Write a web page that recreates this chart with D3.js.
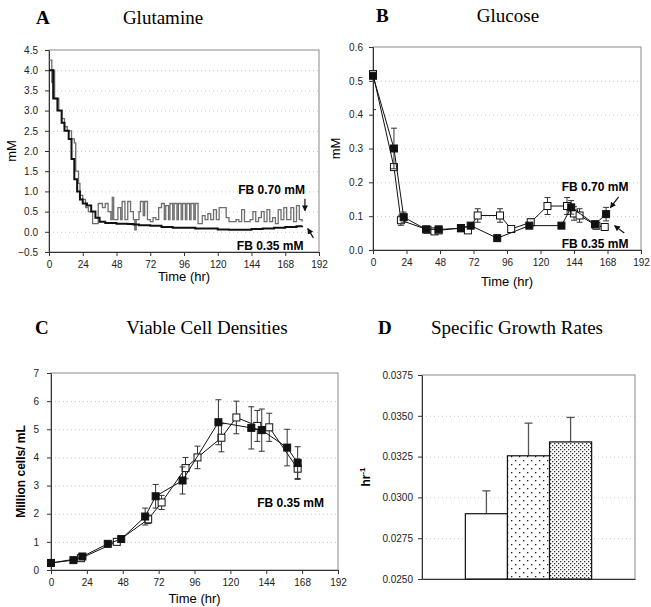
<!DOCTYPE html>
<html>
<head>
<meta charset="utf-8">
<script src="https://cdn.jsdelivr.net/npm/d3@7"></script>
<style>
  body { margin: 0; background: #fff; }
  svg { display: block; }
</style>
</head>
<body>
<svg id="fig" width="651" height="607"></svg>
<script>
// ---- data ----
const hourTicks = [0, 24, 48, 72, 96, 120, 144, 168, 192];

// A: glutamine (mM), step traces [hr, mM]
const glnFeed070 = [
  [0, 4.25], [2, 3.7], [3, 4.0], [4, 3.3], [7, 3.0], [9, 2.8], [11, 2.6], [13, 2.5], [16, 2.3],
  [18, 2.2], [19, 1.5], [21, 1.2], [22, 0.9], [24, 0.8], [26, 0.6], [28, 0.5], [31, 0.2], [35, 0.7],
  [38, 0.6], [40, 0.7], [42, 0.5], [44, 0.3], [45, 0.85], [46, 0.3], [49, 0.6], [51, 0.3], [52, 0.75],
  [54, 0.3], [56, 0.75], [58, 0.5], [60, 0.3], [61, 0.05], [62, 0.3], [64, 0.5], [65, 0.75], [67, 0.4],
  [68, 0.75], [70, 0.3], [72, 0.25], [74, 0.35], [76, 0.3], [78, 0.6], [80, 0.7], [82, 0.3], [83, 0.65],
  [85, 0.3], [86, 0.7], [88, 0.3], [89, 0.7], [91, 0.3], [92, 0.7], [94, 0.3], [95, 0.7], [97, 0.3],
  [98, 0.7], [100, 0.3], [101, 0.7], [103, 0.3], [104, 0.7], [106, 0.2], [109, 0.4], [111, 0.3],
  [113, 0.45], [115, 0.3], [117, 0.55], [119, 0.3], [121, 0.6], [126, 0.35], [128, 0.25], [133, 0.3],
  [135, 0.25], [137, 0.55], [139, 0.25], [143, 0.3], [145, 0.5], [147, 0.25], [149, 0.35], [151, 0.5],
  [153, 0.25], [155, 0.55], [157, 0.25], [159, 0.35], [161, 0.2], [163, 0.55], [165, 0.3], [167, 0.6],
  [169, 0.3], [172, 0.6], [174, 0.25], [176, 0.65], [178, 0.3], [180, 0.25]
];
const glnFeed035 = [
  [0, 4.0], [3, 3.3], [6, 3.0], [9, 2.7], [11, 2.5], [14, 2.3], [16, 1.8], [18, 1.3], [20, 1.0],
  [22, 0.8], [24, 0.7], [27, 0.65], [30, 0.5], [33, 0.35], [36, 0.25], [40, 0.22], [48, 0.2], [56, 0.19],
  [60, 0.18], [64, 0.16], [72, 0.15], [80, 0.12], [88, 0.1], [96, 0.1], [104, 0.08], [112, 0.08],
  [120, 0.06], [128, 0.05], [136, 0.05], [144, 0.07], [152, 0.08], [160, 0.1], [168, 0.12],
  [176, 0.14], [180, 0.15]
];

// B: glucose (mM) [hr, mean, sd]
const glcFeed070 = [
  [0, 0.515, 0], [15, 0.30, 0.06], [22, 0.097, 0.015], [38, 0.061, 0], [47, 0.061, 0], [63, 0.064, 0],
  [70, 0.072, 0], [89, 0.035, 0], [112, 0.072, 0], [135, 0.072, 0], [142, 0.126, 0.02],
  [159, 0.076, 0.01], [167, 0.106, 0.02]
];
const glcFeed035 = [
  [0, 0.52, 0.105], [15, 0.245, 0], [20, 0.088, 0.015], [39, 0.06, 0], [44, 0.055, 0], [47, 0.058, 0],
  [63, 0.065, 0], [68, 0.058, 0], [75, 0.102, 0.02], [91, 0.102, 0.02], [99, 0.062, 0], [113, 0.082, 0.01],
  [125, 0.13, 0.025], [139, 0.13, 0.025], [144, 0.108, 0.02], [148, 0.102, 0.02], [160, 0.072, 0.01],
  [166, 0.068, 0.01]
];

// C: viable cell density (million cells/mL) [hr, mean, sd]
const vcdSolid = [
  [0, 0.25, 0.05], [15, 0.35, 0.05], [21, 0.48, 0.05], [38, 0.93, 0.05], [47, 1.1, 0.08], [63, 1.9, 0.3],
  [70, 2.62, 0.42], [88, 3.18, 0.48], [112, 5.25, 0.8], [134, 5.05, 0.75], [141, 4.97, 0.75],
  [158, 4.35, 0.65], [165, 3.8, 0.58]
];
const vcdOpen = [
  [0, 0.25, 0], [20, 0.42, 0], [44, 1.0, 0], [65, 1.8, 0.15], [74, 2.4, 0.25], [90, 3.62, 0.38],
  [98, 4.0, 0.4], [114, 4.7, 0.5], [124, 5.42, 0.58], [138, 5.12, 0.55], [146, 5.07, 0.5], [165, 3.6, 0.35]
];

// D: specific growth rates (1/hr)
const groups = ["g1", "g2", "g3"];
const growthRate = [0.0290, 0.03255, 0.0334];
const growthErr = [0.0014, 0.0020, 0.0015];
const rateTicks = [0.0250, 0.0275, 0.0300, 0.0325, 0.0350, 0.0375];

// ---- setup ----
const SANS = "'Liberation Sans', Arial, sans-serif";
const SERIF = "'Liberation Serif', 'Times New Roman', serif";
const svg = d3.select("#fig");

const defs = svg.append("defs");
const sparse = defs.append("pattern").attr("id", "dotsSparse").attr("patternUnits", "userSpaceOnUse")
  .attr("width", 8).attr("height", 8);
sparse.append("rect").attr("width", 8).attr("height", 8).attr("fill", "#fff");
sparse.append("rect").attr("x", 1).attr("y", 1).attr("width", 1.3).attr("height", 1.3).attr("fill", "#222");
sparse.append("rect").attr("x", 5).attr("y", 5).attr("width", 1.3).attr("height", 1.3).attr("fill", "#222");
const dense = defs.append("pattern").attr("id", "dotsDense").attr("patternUnits", "userSpaceOnUse")
  .attr("width", 4).attr("height", 4);
dense.append("rect").attr("width", 4).attr("height", 4).attr("fill", "#fff");
dense.append("rect").attr("x", 0).attr("y", 0).attr("width", 1.3).attr("height", 1.3).attr("fill", "#333");
dense.append("rect").attr("x", 2).attr("y", 2).attr("width", 1.3).attr("height", 1.3).attr("fill", "#333");

const arrow = defs.append("marker").attr("id", "arrow").attr("viewBox", "0 0 10 10")
  .attr("refX", 9).attr("refY", 5).attr("markerWidth", 5).attr("markerHeight", 5).attr("orient", "auto");
arrow.append("path").attr("d", "M0,0 L10,5 L0,10 z").attr("fill", "#111");

let clipCount = 0;
function makePanel(box, xDomain, yDomain) {
  const g = svg.append("g").attr("transform", `translate(${box.left},${box.top})`);
  const x = d3.scaleLinear().domain(xDomain).range([0, box.width]);
  const y = d3.scaleLinear().domain(yDomain).range([box.height, 0]);
  const clipId = `clip${clipCount++}`;
  defs.append("clipPath").attr("id", clipId).append("rect").attr("width", box.width).attr("height", box.height);
  return { g, x, y, w: box.width, h: box.height, clip: `url(#${clipId})` };
}

function drawFrame(p, yTicks, yFmt, xTicks, pad) {
  p.g.append("g")
    .call(d3.axisLeft(p.y).tickValues(yTicks.slice(1, -1)).tickSize(-p.w).tickFormat(""))
    .call((g) => g.select(".domain").remove())
    .call((g) => g.selectAll("line").attr("stroke", "#c8c8c8").attr("stroke-dasharray", "1,3"));
  p.g.append("rect").attr("width", p.w).attr("height", p.h)
    .attr("fill", "none").attr("stroke", "#8a8a8a").attr("stroke-width", 1);

  const yAxis = p.g.append("g")
    .call(d3.axisLeft(p.y).tickValues(yTicks).tickFormat(d3.format(yFmt)).tickSize(4).tickPadding(pad).tickSizeOuter(0));
  const xAxis = p.g.append("g").attr("transform", `translate(0,${p.h})`);
  if (xTicks) {
    xAxis.call(d3.axisBottom(p.x).tickValues(xTicks).tickSize(4).tickPadding(5).tickSizeOuter(0));
  } else {
    xAxis.call(d3.axisBottom(p.x).tickValues([]).tickSizeOuter(0));
  }
  [yAxis, xAxis].forEach((a) => {
    a.selectAll("text").attr("font-family", SANS).attr("font-size", 10).attr("fill", "#222");
    a.selectAll("line").attr("stroke", "#333");
    a.select(".domain").attr("stroke", "#333");
  });
}

function title(letter, name, lx, nx, yPos) {
  svg.append("text").attr("x", lx).attr("y", yPos).attr("font-family", SERIF).attr("font-weight", "bold")
    .attr("font-size", 19).text(letter);
  svg.append("text").attr("x", nx).attr("y", yPos).attr("font-family", SERIF).attr("text-anchor", "middle")
    .attr("font-size", 19).text(name);
}

function axisLabel(p, text, dy, size, weight) {
  p.g.append("text").attr("x", p.w / 2).attr("y", p.h + dy).attr("text-anchor", "middle")
    .attr("font-family", SANS).attr("font-size", size).attr("font-weight", weight || "normal").text(text);
}

function yLabel(p, text, dx, size, weight) {
  return p.g.append("text").attr("transform", `translate(${dx},${p.h / 2}) rotate(-90)`)
    .attr("text-anchor", "middle").attr("font-family", SANS).attr("font-size", size)
    .attr("font-weight", weight || "normal").text(text);
}

function note(p, text, hr, v, anchor) {
  p.g.append("text").attr("x", p.x(hr)).attr("y", p.y(v)).attr("text-anchor", anchor || "end")
    .attr("font-family", SANS).attr("font-size", 12).attr("font-weight", "bold").text(text);
}

function pointer(p, from, to) {
  p.g.append("line").attr("x1", p.x(from[0])).attr("y1", p.y(from[1]))
    .attr("x2", p.x(to[0])).attr("y2", p.y(to[1]))
    .attr("stroke", "#111").attr("stroke-width", 1.2).attr("marker-end", "url(#arrow)");
}

function series(p, data, filled) {
  const line = d3.line().x((d) => p.x(d[0])).y((d) => p.y(d[1]));
  p.g.append("path").datum(data).attr("d", line).attr("fill", "none").attr("stroke", "#111").attr("stroke-width", 1);
  const err = p.g.append("g").attr("stroke", "#333").attr("stroke-width", 1).attr("clip-path", p.clip);
  data.filter((d) => d[2] > 0).forEach((d) => {
    const cx = p.x(d[0]);
    err.append("line").attr("x1", cx).attr("x2", cx).attr("y1", p.y(d[1] - d[2])).attr("y2", p.y(d[1] + d[2]));
    [d[1] - d[2], d[1] + d[2]].forEach((v) =>
      err.append("line").attr("x1", cx - 3).attr("x2", cx + 3).attr("y1", p.y(v)).attr("y2", p.y(v)));
  });
  p.g.append("g").selectAll("rect").data(data).join("rect")
    .attr("x", (d) => p.x(d[0]) - 3.5).attr("y", (d) => p.y(d[1]) - 3.5)
    .attr("width", 7).attr("height", 7)
    .attr("fill", filled ? "#111" : "#fff").attr("stroke", "#111").attr("stroke-width", 1);
}

// ---- A: Glutamine ----
const pA = makePanel({ left: 49, top: 50, width: 270, height: 202 }, [0, 192], [-0.5, 4.5]);
drawFrame(pA, d3.range(-0.5, 4.51, 0.5), ".1f", hourTicks, 7);
const stepA = d3.line().curve(d3.curveStepAfter).x((d) => pA.x(d[0])).y((d) => pA.y(d[1]));
pA.g.append("path").datum(glnFeed070).attr("d", stepA).attr("fill", "none").attr("stroke", "#6e6e6e").attr("stroke-width", 1.3);
pA.g.append("path").datum(glnFeed035).attr("d", stepA).attr("fill", "none").attr("stroke", "#111").attr("stroke-width", 2);
note(pA, "FB 0.70 mM", 182, 0.94);
pointer(pA, [182, 0.82], [182, 0.52]);
note(pA, "FB 0.35 mM", 181, -0.45);
pointer(pA, [188, -0.15], [184, 0.08]);
axisLabel(pA, "Time (hr)", 29, 13);
yLabel(pA, "mM", -33, 13);
title("A", "Glutamine", 36, 163, 24);

// ---- B: Glucose ----
const pB = makePanel({ left: 373, top: 47, width: 268, height: 203 }, [0, 192], [0, 0.6]);
drawFrame(pB, d3.range(0, 0.61, 0.1), ".1f", hourTicks, 6);
series(pB, glcFeed035, false);
series(pB, glcFeed070, true);
note(pB, "FB 0.70 mM", 183, 0.175);
pointer(pB, [176, 0.157], [170, 0.125]);
note(pB, "FB 0.35 mM", 183, 0.006);
pointer(pB, [180, 0.05], [173, 0.072]);
axisLabel(pB, "Time (hr)", 36, 13);
yLabel(pB, "mM", -33, 13);
title("B", "Glucose", 376, 508, 22);

// ---- C: Viable Cell Densities ----
const pC = makePanel({ left: 51, top: 373, width: 287, height: 197 }, [0, 192], [0, 7]);
drawFrame(pC, d3.range(0, 7.01, 1), "d", hourTicks, 8);
series(pC, vcdOpen, false);
series(pC, vcdSolid, true);
note(pC, "FB 0.35 mM", 138, 2.24, "start");
axisLabel(pC, "Time (hr)", 33, 13);
yLabel(pC, "Million cells/ mL", -26, 12, "bold");
title("C", "Viable Cell Densities", 35, 207, 334);

// ---- D: Specific Growth Rates ----
const boxD = { left: 422, top: 375, width: 213, height: 204 };
const pD = makePanel(boxD, [0, 1], [0.025, 0.0375]);
drawFrame(pD, rateTicks, ".4f", null, 5);
const xb = d3.scaleBand().domain(groups).range([0, pD.w]).paddingInner(0).paddingOuter(1.03);
const fills = ["#fff", "url(#dotsSparse)", "url(#dotsDense)"];
pD.g.append("g").selectAll("line").data(groups).join("line")
  .attr("x1", (d) => xb(d) + xb.bandwidth() / 2).attr("x2", (d) => xb(d) + xb.bandwidth() / 2)
  .attr("y1", (d, i) => pD.y(growthRate[i])).attr("y2", (d, i) => pD.y(growthRate[i] + growthErr[i]))
  .attr("stroke", "#555").attr("stroke-width", 1.3);
pD.g.append("g").selectAll("line").data(groups).join("line")
  .attr("x1", (d) => xb(d) + xb.bandwidth() / 2 - 4).attr("x2", (d) => xb(d) + xb.bandwidth() / 2 + 4)
  .attr("y1", (d, i) => pD.y(growthRate[i] + growthErr[i])).attr("y2", (d, i) => pD.y(growthRate[i] + growthErr[i]))
  .attr("stroke", "#555").attr("stroke-width", 1.3);
pD.g.append("g").selectAll("rect").data(groups).join("rect")
  .attr("x", (d) => xb(d)).attr("width", xb.bandwidth())
  .attr("y", (d, i) => pD.y(growthRate[i])).attr("height", (d, i) => pD.h - pD.y(growthRate[i]))
  .attr("fill", (d, i) => fills[i]).attr("stroke", "#111").attr("stroke-width", 1.2);
const hrLab = yLabel(pD, "", -52, 12, "bold");
hrLab.append("tspan").text("hr");
hrLab.append("tspan").attr("font-size", 8).attr("dy", -5).text("-1");
title("D", "Specific Growth Rates", 378, 517, 334);
</script>
</body>
</html>
